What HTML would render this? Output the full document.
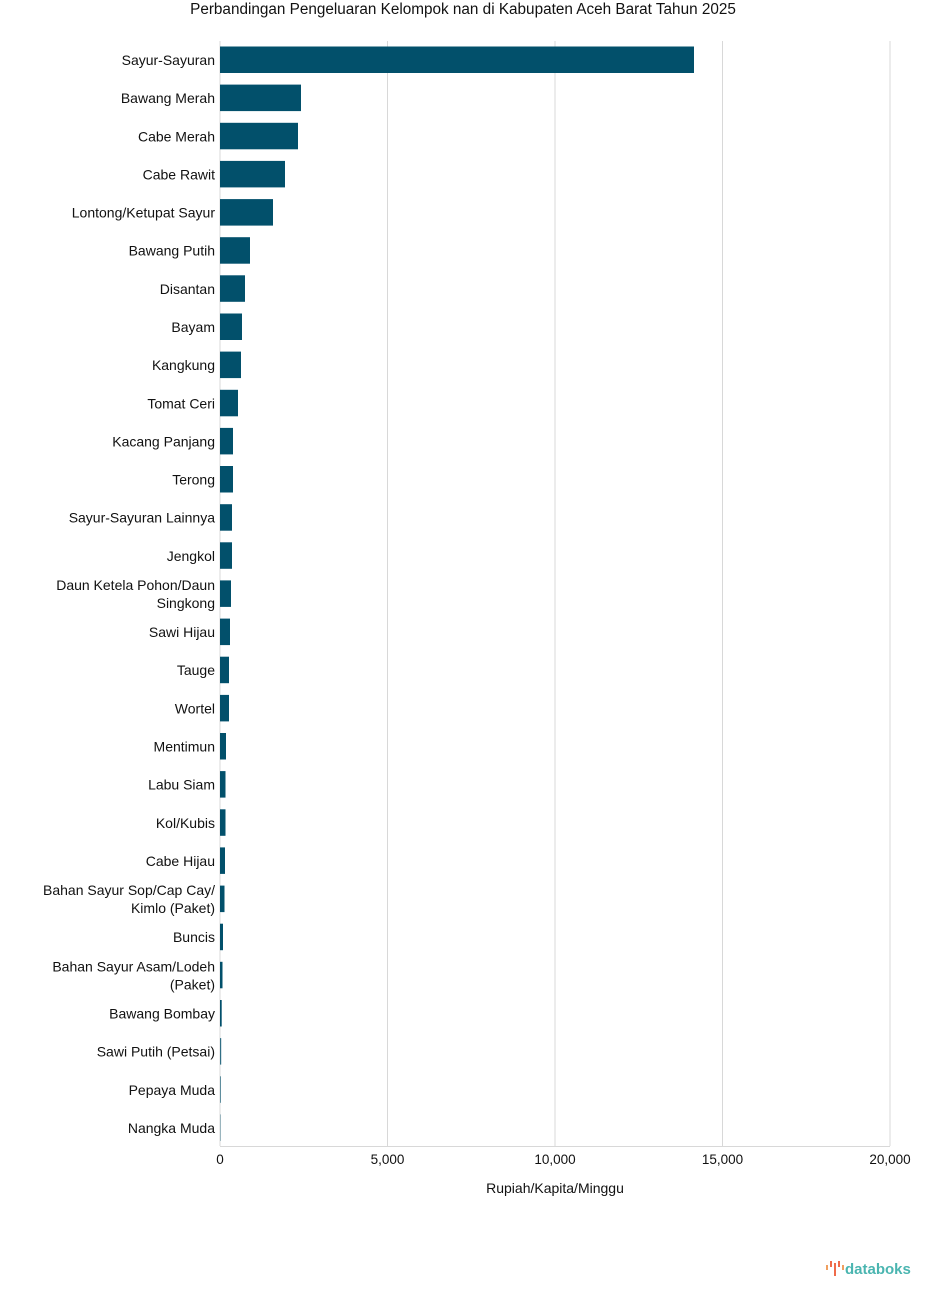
<!DOCTYPE html>
<html><head><meta charset="utf-8"><style>
html,body{margin:0;padding:0;background:#fff;}
svg{display:block;font-family:"Liberation Sans",Arial,sans-serif;}
</style></head><body>
<svg width="925" height="1297" viewBox="0 0 925 1297" xmlns="http://www.w3.org/2000/svg">
<text x="463" y="14" text-anchor="middle" font-size="15.3" fill="#111">Perbandingan Pengeluaran Kelompok nan di Kabupaten Aceh Barat Tahun 2025</text>
<g stroke="#d8d8d8" stroke-width="1">
<line x1="387.5" y1="41" x2="387.5" y2="1146"/>
<line x1="555" y1="41" x2="555" y2="1146"/>
<line x1="722.5" y1="41" x2="722.5" y2="1146"/>
<line x1="890" y1="41" x2="890" y2="1146"/>
<line x1="220" y1="41" x2="220" y2="1146"/>
<line x1="220" y1="1146.5" x2="890" y2="1146.5"/>
</g>
<g fill="#02506b">
<rect x="220" y="46.5" width="474" height="26.5"/>
<rect x="220" y="84.6" width="81" height="26.5"/>
<rect x="220" y="122.8" width="78" height="26.5"/>
<rect x="220" y="160.9" width="65" height="26.5"/>
<rect x="220" y="199.1" width="53" height="26.5"/>
<rect x="220" y="237.2" width="30" height="26.5"/>
<rect x="220" y="275.3" width="25" height="26.5"/>
<rect x="220" y="313.5" width="22" height="26.5"/>
<rect x="220" y="351.6" width="21" height="26.5"/>
<rect x="220" y="389.8" width="18" height="26.5"/>
<rect x="220" y="427.9" width="13" height="26.5"/>
<rect x="220" y="466.0" width="13" height="26.5"/>
<rect x="220" y="504.2" width="12" height="26.5"/>
<rect x="220" y="542.3" width="12" height="26.5"/>
<rect x="220" y="580.4" width="11" height="26.5"/>
<rect x="220" y="618.6" width="10" height="26.5"/>
<rect x="220" y="656.7" width="9" height="26.5"/>
<rect x="220" y="694.9" width="9" height="26.5"/>
<rect x="220" y="733.0" width="6" height="26.5"/>
<rect x="220" y="771.1" width="5.5" height="26.5"/>
<rect x="220" y="809.3" width="5.5" height="26.5"/>
<rect x="220" y="847.4" width="5" height="26.5"/>
<rect x="220" y="885.6" width="4.5" height="26.5"/>
<rect x="220" y="923.7" width="3" height="26.5"/>
<rect x="220" y="961.8" width="2.5" height="26.5"/>
<rect x="220" y="1000.0" width="1.7" height="26.5"/>
<rect x="220" y="1038.1" width="1.2" height="26.5" opacity="0.8"/>
<rect x="220" y="1076.3" width="1" height="26.5" opacity="0.6"/>
<rect x="220" y="1114.4" width="1" height="26.5" opacity="0.35"/>
</g>
<g font-size="14" fill="#111" text-anchor="end">
<text x="215" y="65">Sayur-Sayuran</text>
<text x="215" y="103.1">Bawang Merah</text>
<text x="215" y="141.3">Cabe Merah</text>
<text x="215" y="179.4">Cabe Rawit</text>
<text x="215" y="217.6">Lontong/Ketupat Sayur</text>
<text x="215" y="255.7">Bawang Putih</text>
<text x="215" y="293.8">Disantan</text>
<text x="215" y="332">Bayam</text>
<text x="215" y="370.1">Kangkung</text>
<text x="215" y="408.3">Tomat Ceri</text>
<text x="215" y="446.4">Kacang Panjang</text>
<text x="215" y="484.5">Terong</text>
<text x="215" y="522.7">Sayur-Sayuran Lainnya</text>
<text x="215" y="560.8">Jengkol</text>
<text x="215" y="589.9">Daun Ketela Pohon/Daun</text>
<text x="215" y="607.9">Singkong</text>
<text x="215" y="637.1">Sawi Hijau</text>
<text x="215" y="675.2">Tauge</text>
<text x="215" y="713.4">Wortel</text>
<text x="215" y="751.5">Mentimun</text>
<text x="215" y="789.6">Labu Siam</text>
<text x="215" y="827.8">Kol/Kubis</text>
<text x="215" y="865.9">Cabe Hijau</text>
<text x="215" y="895.1">Bahan Sayur Sop/Cap Cay/</text>
<text x="215" y="913.1">Kimlo (Paket)</text>
<text x="215" y="942.2">Buncis</text>
<text x="215" y="971.3">Bahan Sayur Asam/Lodeh</text>
<text x="215" y="989.3">(Paket)</text>
<text x="215" y="1018.5">Bawang Bombay</text>
<text x="215" y="1056.6">Sawi Putih (Petsai)</text>
<text x="215" y="1094.8">Pepaya Muda</text>
<text x="215" y="1132.9">Nangka Muda</text>
</g>
<g font-size="13.5" fill="#111" text-anchor="middle">
<text x="220" y="1164">0</text>
<text x="387.5" y="1164">5,000</text>
<text x="555" y="1164">10,000</text>
<text x="722.5" y="1164">15,000</text>
<text x="890" y="1164">20,000</text>
<text x="555" y="1193" font-size="14">Rupiah/Kapita/Minggu</text>
</g>
<g>
<rect x="826" y="1265" width="2" height="5" fill="#f0a060"/>
<rect x="830" y="1261" width="2" height="6" fill="#ef6b4a"/>
<rect x="834" y="1263" width="2" height="13" fill="#ef6b4a"/>
<rect x="838" y="1261" width="2" height="6" fill="#ef6b4a"/>
<rect x="842" y="1265" width="2" height="5" fill="#f0a060"/>
<text x="845" y="1274" font-size="15" font-weight="bold" fill="#4ab5b0">databoks</text>
</g>
</svg>
</body></html>
